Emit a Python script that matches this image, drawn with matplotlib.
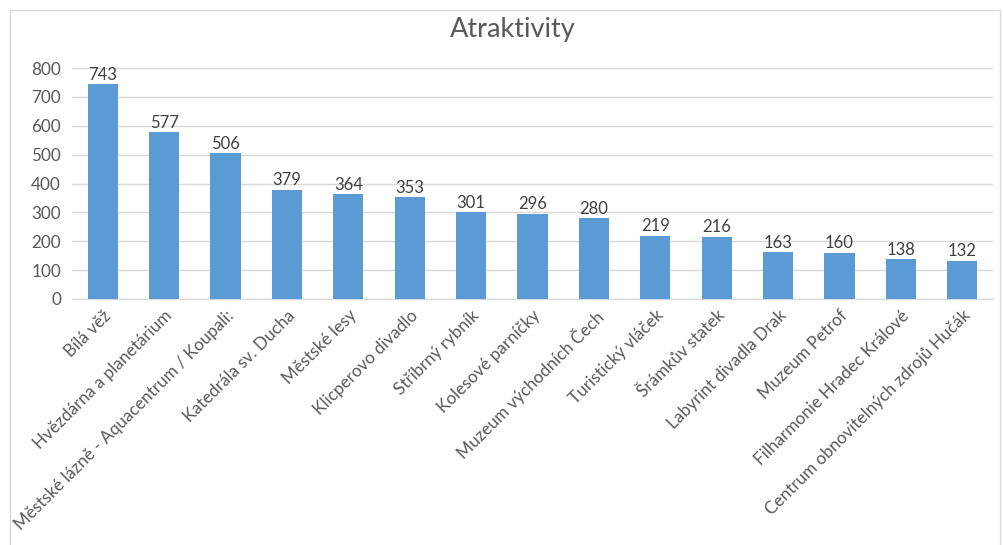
import matplotlib
matplotlib.use("Agg")
import matplotlib.pyplot as plt
from matplotlib.patches import Rectangle

# Data
categories = [
    "Bílá věž", "Hvězdárna a planetárium", "Městské lázně - Aquacentrum / Koupali:",
    "Katedrála sv. Ducha", "Městské lesy", "Klicperovo divadlo", "Stříbrný rybník",
    "Kolesové parníčky", "Muzeum východních Čech", "Turistický vláček",
    "Šrámkův statek", "Labyrint divadla Drak", "Muzeum Petrof",
    "Filharmonie Hradec Králové", "Centrum obnovitelných zdrojů Hučák",
]
values = [743, 577, 506, 379, 364, 353, 301, 296, 280, 219, 216, 163, 160, 138, 132]
yticks = [0, 100, 200, 300, 400, 500, 600, 700, 800]

plt.rcParams['font.family'] = ['Lato', 'DejaVu Sans']

fig = plt.figure(figsize=(10.04, 5.45), dpi=100)
ax = fig.add_axes([0.0717, 0.4514, 0.9173, 0.4238])

x = range(len(categories))
bars = ax.bar(x, values, width=0.49, color='#5B9BD5', zorder=3)
ax.bar_label(bars, padding=1, fontsize=12, color='#404040')

ax.set_xlim(-0.5, len(categories) - 0.5)
ax.set_ylim(0, 800)
ax.set_yticks(yticks)
ax.yaxis.grid(True, color='#D9D9D9', linewidth=1, zorder=0)
ax.tick_params(axis='both', length=0, colors='#595959', labelsize=12.3)
ax.tick_params(axis='y', pad=8)
ax.tick_params(axis='x', pad=6)
ax.set_xticks(list(x))
ax.set_xticklabels(categories, rotation=45, ha='right', rotation_mode='anchor')
for s in ['top', 'right', 'left']:
    ax.spines[s].set_visible(False)
ax.spines['bottom'].set_color('#D9D9D9')

fig.text(0.511, 0.945, 'Atraktivity', ha='center', va='center', fontsize=19.5, color='#595959')

# light outer border like the spreadsheet chart frame
fig.patches.append(Rectangle((10 / 1004, -0.01), 990 / 1004, 1 - 10 / 545 + 0.01,
                             transform=fig.transFigure, fill=False,
                             edgecolor='#D9D9D9', linewidth=1))

fig.savefig('out.png', dpi=100)
